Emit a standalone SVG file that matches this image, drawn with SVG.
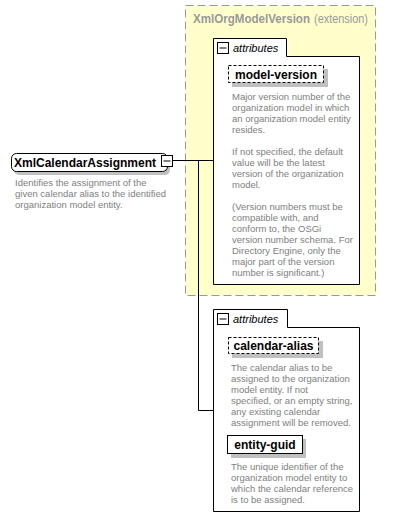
<svg xmlns="http://www.w3.org/2000/svg" width="418" height="529" viewBox="0 0 418 529">
<style>
.bg{fill:#ffffff}
.ext{fill:#ffffcc;stroke:#999999;stroke-width:1;stroke-dasharray:8,4}
.attr{fill:#ffffff;stroke:#000000;stroke-width:1}
.shadow{fill:#c0c0c0}
.opt{fill:#ffffff;stroke:#000000;stroke-width:1;stroke-dasharray:3,2}
.req{fill:#ffffff;stroke:#000000;stroke-width:1}
.icon{fill:#ffffff;stroke:#000000;stroke-width:1}
.conn{fill:none;stroke:#000000;stroke-width:1}
.name{font-family:"Liberation Sans",Arial,sans-serif;font-weight:bold;font-size:12px;fill:#000000}
.ttl{font-family:"Liberation Sans",Arial,sans-serif;font-size:12px;fill:#999999}
.lbl{font-family:"Liberation Sans",Arial,sans-serif;font-style:italic;font-size:11px;fill:#000000}
.desc{font-family:"Liberation Sans",Arial,sans-serif;font-size:9.5px;fill:#808080}
</style>
<rect class="bg" x="0" y="0" width="418" height="529"/>

<g id="XmlOrgModelVersion">
<rect class="ext" x="185.5" y="5.5" width="190" height="290"/>
<text class="ttl" x="193" y="23" font-weight="bold" textLength="117" lengthAdjust="spacingAndGlyphs">XmlOrgModelVersion</text>
<text class="ttl" x="314" y="23" textLength="54" lengthAdjust="spacingAndGlyphs">(extension)</text>
</g>

<g id="attributes1">
<path class="attr" d="M213.5,38.5 H286.5 V56.5 H359.5 V284.5 H213.5 Z"/>
<rect class="icon" x="217.5" y="42.5" width="11" height="11"/>
<line class="conn" x1="219.5" y1="48" x2="226.5" y2="48"/>
<text class="lbl" x="233" y="52">attributes</text>
</g>

<g id="model-version">
<rect class="shadow" x="232" y="69" width="96" height="18"/>
<rect class="opt" x="228.5" y="65.5" width="95" height="17"/>
<text class="name" x="276" y="79" text-anchor="middle">model-version</text>
<text class="desc">
<tspan x="232" y="100">Major version number of the</tspan>
<tspan x="232" y="111">organization model in which</tspan>
<tspan x="232" y="122">an organization model entity</tspan>
<tspan x="232" y="133">resides.</tspan>
<tspan x="232" y="155">If not specified, the default</tspan>
<tspan x="232" y="166">value will be the latest</tspan>
<tspan x="232" y="177">version of the organization</tspan>
<tspan x="232" y="188">model.</tspan>
<tspan x="232" y="210">(Version numbers must be</tspan>
<tspan x="232" y="221">compatible with, and</tspan>
<tspan x="232" y="232">conform to, the OSGi</tspan>
<tspan x="232" y="243">version number schema. For</tspan>
<tspan x="232" y="254">Directory Engine, only the</tspan>
<tspan x="232" y="265">major part of the version</tspan>
<tspan x="232" y="276">number is significant.)</tspan>
</text>
</g>

<g id="XmlCalendarAssignment">
<rect class="shadow" x="14" y="157" width="156" height="18" rx="5"/>
<rect class="req" x="11.5" y="153.5" width="156" height="18" rx="5"/>
<text class="name" x="14" y="167">XmlCalendarAssignment</text>
<rect class="icon" x="161.5" y="155.5" width="11" height="11"/>
<line class="conn" x1="163.5" y1="161" x2="170.5" y2="161"/>
<text class="desc">
<tspan x="15" y="186">Identifies the assignment of the</tspan>
<tspan x="15" y="197">given calendar alias to the identified</tspan>
<tspan x="15" y="208">organization model entity.</tspan>
</text>
</g>

<g id="connectors">
<polyline class="conn" points="172.5,160.5 213.5,160.5"/>
<polyline class="conn" points="198.5,160.5 198.5,410.5 213.5,410.5"/>
</g>

<g id="attributes2">
<path class="attr" d="M213.5,309.5 H287.5 V327.5 H359.5 V511.5 H213.5 Z"/>
<rect class="icon" x="217.5" y="313.5" width="11" height="11"/>
<line class="conn" x1="219.5" y1="319" x2="226.5" y2="319"/>
<text class="lbl" x="233" y="323">attributes</text>
</g>

<g id="calendar-alias">
<rect class="shadow" x="232" y="341" width="91" height="17"/>
<rect class="opt" x="228.5" y="337.5" width="90" height="16"/>
<text class="name" x="273.5" y="350" text-anchor="middle">calendar-alias</text>
<text class="desc">
<tspan x="231" y="371">The calendar alias to be</tspan>
<tspan x="231" y="382">assigned to the organization</tspan>
<tspan x="231" y="393">model entity. If not</tspan>
<tspan x="231" y="404">specified, or an empty string,</tspan>
<tspan x="231" y="415">any existing calendar</tspan>
<tspan x="231" y="426">assignment will be removed.</tspan>
</text>
</g>

<g id="entity-guid">
<rect class="shadow" x="231" y="439" width="75" height="19"/>
<rect class="req" x="227.5" y="435.5" width="75" height="18"/>
<text class="name" x="265" y="449" text-anchor="middle">entity-guid</text>
<text class="desc">
<tspan x="231" y="470">The unique identifier of the</tspan>
<tspan x="231" y="481">organization model entity to</tspan>
<tspan x="231" y="492">which the calendar reference</tspan>
<tspan x="231" y="503">is to be assigned.</tspan>
</text>
</g>
</svg>
